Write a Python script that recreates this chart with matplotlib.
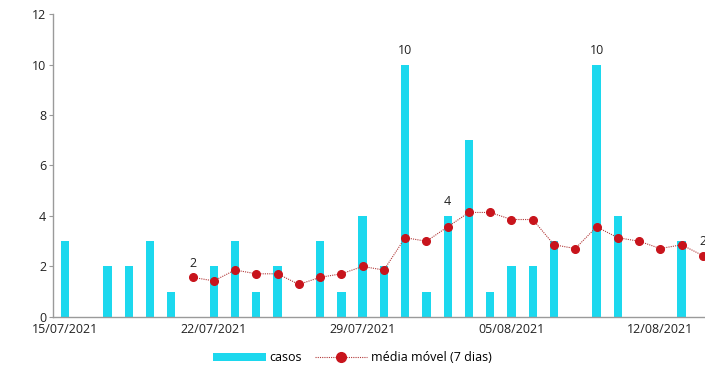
import matplotlib
matplotlib.use("Agg")
import matplotlib.pyplot as plt
from matplotlib.lines import Line2D
from matplotlib.patches import Patch

# daily cases, 15/07/2021 .. 14/08/2021
casos = [3, 0, 2, 2, 3, 1, 0, 2, 3, 1, 2, 0, 3, 1, 4, 2,
         10, 1, 4, 7, 1, 2, 2, 3, 0, 10, 4, 0, 0, 3, 0]
# 7-day moving average, starts on day 6 (21/07)
media_start = 6
media = [1.57, 1.43, 1.86, 1.71, 1.71, 1.29, 1.57, 1.71, 2.0, 1.86,
         3.14, 3.0, 3.57, 4.14, 4.14, 3.86, 3.86, 2.86, 2.71, 3.57,
         3.14, 3.0, 2.71, 2.86, 2.43]
tick_days = [0, 7, 14, 21, 28]
tick_labels = ["15/07/2021", "22/07/2021", "29/07/2021", "05/08/2021", "12/08/2021"]
# data labels: (day, text, value it sits above)
labels = [(6, "2", 1.57), (16, "10", 10), (18, "4", 4), (25, "10", 10), (30, "2", 2.43)]

BAR = "#1cd8ee"
RED = "#c8141c"
GRAY = "#9a9a9a"

plt.rcParams["font.family"] = ["Open Sans", "DejaVu Sans"]

fig = plt.figure(figsize=(7.05, 3.69), dpi=100)
ax = fig.add_axes([0.0752, 0.141, 0.9248, 0.821])

days = list(range(len(casos)))
ax.bar(days, casos, width=0.39, color=BAR, zorder=2)
md = list(range(media_start, media_start + len(media)))
ax.plot(md, media, color="#b23a3a", linestyle=(0, (1, 1)), linewidth=0.8,
        marker="o", markersize=5.5, markerfacecolor=RED, markeredgecolor=RED,
        zorder=3)

for d, txt, y in labels:
    ax.text(d, y + 0.3, txt, ha="center", va="bottom", fontsize=9,
            color="#222222", zorder=4)

ax.set_xlim(-0.56, 30.1)
ax.set_ylim(0, 12)
ax.set_yticks(range(0, 13, 2))
ax.set_xticks(tick_days)
ax.set_xticklabels(tick_labels)
ax.tick_params(axis="y", length=3, color=GRAY, labelsize=9, pad=2,
               labelcolor="#222222")
ax.tick_params(axis="x", length=0, labelsize=9, pad=4.5, labelcolor="#222222")
for s in ["top", "right"]:
    ax.spines[s].set_visible(False)
for s in ["left", "bottom"]:
    ax.spines[s].set_color(GRAY)
    ax.spines[s].set_linewidth(1.0)

handles = [Patch(facecolor=BAR, edgecolor="none"),
           Line2D([], [], color="#b23a3a", linestyle=(0, (1, 1)), linewidth=0.8,
                  marker="o", markersize=7, markerfacecolor=RED,
                  markeredgecolor=RED)]
fig.legend(handles, ["casos", "média móvel (7 dias)"], loc="center",
           bbox_to_anchor=(0.5, 0.03), ncol=2, frameon=False, fontsize=9,
           handlelength=4.2, handleheight=0.5, columnspacing=1.0,
           handletextpad=0.3)

fig.savefig("out.png", dpi=100, facecolor="white")
